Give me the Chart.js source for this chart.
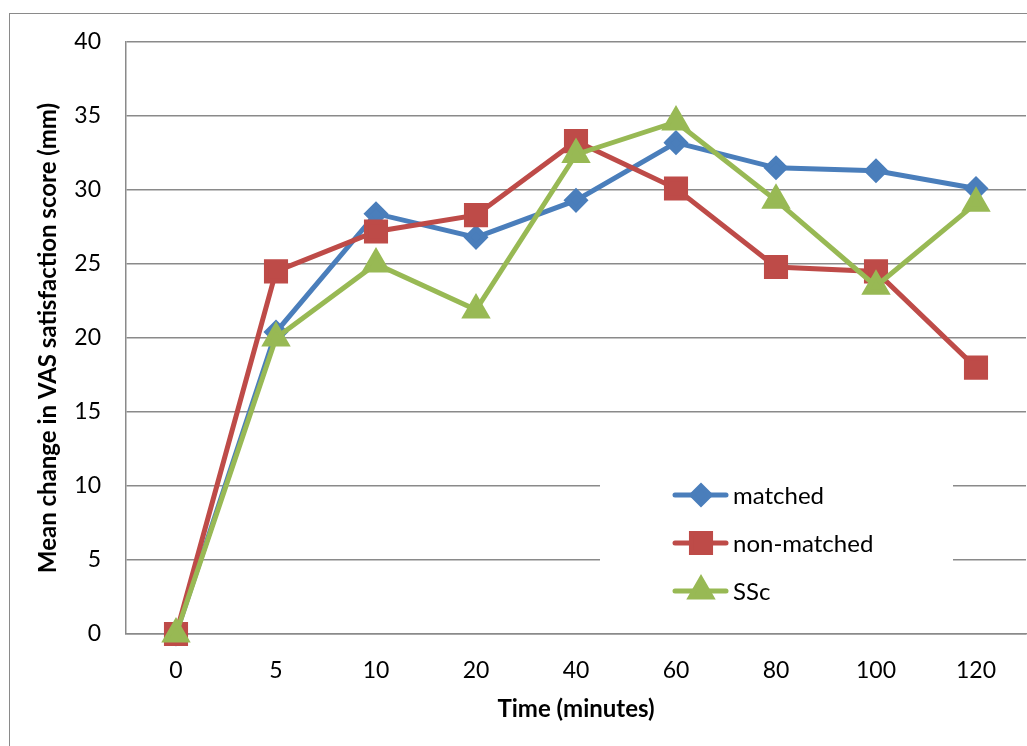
<!DOCTYPE html>
<html>
<head>
<meta charset="utf-8">
<script src="https://cdn.jsdelivr.net/npm/chart.js@4/dist/chart.umd.min.js"></script>
<style>
  html, body { margin: 0; padding: 0; background: #ffffff; }
  #wrap { width: 1027px; height: 746px; position: relative; }
</style>
</head>
<body>
<div id="wrap"><canvas id="chart" width="1027" height="746"></canvas></div>
<script>
// Time points (minutes) shown as categories on the x axis
const times = ['0', '5', '10', '20', '40', '60', '80', '100', '120'];

// Mean change in VAS satisfaction score (mm) per group
const matched    = [0, 20.4, 28.4, 26.8, 29.3, 33.2, 31.5, 31.3, 30.1];
const nonMatched = [0, 24.5, 27.2, 28.3, 33.3, 30.1, 24.8, 24.5, 18.0];
const ssc        = [0, 20.0, 25.0, 21.9, 32.4, 34.6, 29.3, 23.5, 29.1];

// Y axis range and step
const yMin = 0, yMax = 40, yStep = 5;

const FONT = 'Lato, "Open Sans", "DejaVu Sans", sans-serif';
const BLUE = '#4A7EBB', RED = '#BE4B48', GREEN = '#98B954';

// Frame around the whole chart
const framePlugin = {
  id: 'frame',
  beforeDraw(chart) {
    const ctx = chart.ctx;
    ctx.save();
    ctx.fillStyle = '#ffffff';
    ctx.fillRect(0, 0, chart.width, chart.height);
    ctx.strokeStyle = '#8a8a8a';
    ctx.lineWidth = 1;
    ctx.strokeRect(9.5, 13.5, chart.width + 20, chart.height + 20);
    ctx.restore();
  }
};

// Legend drawn inside the plot area on a white box
const insideLegend = {
  id: 'insideLegend',
  beforeDatasetsDraw(chart) {
    const ctx = chart.ctx;
    const box = { x: 600, y: 468, w: 353, h: 148 };
    ctx.save();
    ctx.fillStyle = '#ffffff';
    ctx.fillRect(box.x, box.y, box.w, box.h);
    const rowY = [495, 543, 591];
    chart.data.datasets.forEach((ds, i) => {
      const y = rowY[i];
      ctx.strokeStyle = ds.borderColor;
      ctx.lineWidth = 5;
      ctx.lineCap = 'round';
      ctx.beginPath();
      ctx.moveTo(675, y);
      ctx.lineTo(726, y);
      ctx.stroke();
      ctx.fillStyle = ds.pointBackgroundColor;
      ctx.strokeStyle = ds.pointBorderColor;
      Chart.helpers.drawPoint(ctx, {
        pointStyle: ds.pointStyle,
        radius: ds.pointRadius,
        borderWidth: 1,
        rotation: 0
      }, 701, y);
      ctx.fillStyle = '#000000';
      ctx.font = '24px ' + FONT;
      ctx.textAlign = 'left';
      ctx.textBaseline = 'middle';
      ctx.fillText(ds.label, 733, y + 1);
    });
    ctx.restore();
  }
};

new Chart(document.getElementById('chart'), {
  type: 'line',
  data: {
    labels: times,
    datasets: [
      {
        label: 'matched', data: matched, order: 3,
        borderColor: BLUE, backgroundColor: BLUE,
        pointBackgroundColor: BLUE, pointBorderColor: BLUE,
        pointStyle: 'rectRot', pointRadius: 9, borderWidth: 5, tension: 0, clip: false
      },
      {
        label: 'non-matched', data: nonMatched, order: 2,
        borderColor: RED, backgroundColor: RED,
        pointBackgroundColor: RED, pointBorderColor: RED,
        pointStyle: 'rect', pointRadius: 13.5, borderWidth: 5, tension: 0, clip: false
      },
      {
        label: 'SSc', data: ssc, order: 1,
        borderColor: GREEN, backgroundColor: GREEN,
        pointBackgroundColor: GREEN, pointBorderColor: GREEN,
        pointStyle: 'triangle', pointRadius: 12, borderWidth: 5, tension: 0, clip: false
      }
    ]
  },
  options: {
    responsive: false,
    animation: false,
    layout: { autoPadding: false, padding: { left: 0, right: 1, top: 42, bottom: 0 } },
    plugins: {
      legend: { display: false },
      tooltip: { enabled: false }
    },
    scales: {
      x: {
        offset: true,
        grid: { display: false, drawTicks: false },
        border: { display: true, color: '#8a8a8a', width: 1.5 },
        ticks: { color: '#000', font: { family: FONT, size: 23 }, padding: 23, maxRotation: 0 },
        title: {
          display: true, text: 'Time (minutes)', color: '#000',
          font: { family: FONT, size: 24, weight: 'bold' },
          padding: { top: 0, bottom: 22 }
        },
        afterFit(scale) { scale.height = 112; }
      },
      y: {
        min: yMin, max: yMax,
        ticks: { stepSize: yStep, color: '#000', font: { family: FONT, size: 23 }, padding: 25 },
        grid: { color: '#8a8a8a', lineWidth: 1.5, drawTicks: false },
        border: { display: true, color: '#8a8a8a', width: 1.5 },
        title: {
          display: true, text: 'Mean change in VAS satisfaction score (mm)', color: '#000',
          font: { family: FONT, size: 24, weight: 'bold' },
          padding: { top: 34, bottom: 0 }
        },
        afterFit(scale) { scale.width = 126; }
      }
    }
  },
  plugins: [framePlugin, insideLegend]
});
</script>
</body>
</html>
